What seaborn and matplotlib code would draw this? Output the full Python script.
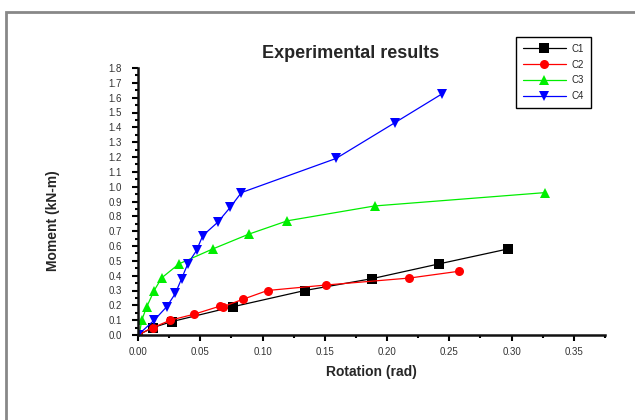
import numpy as np
import pandas as pd
import matplotlib
matplotlib.use("Agg")
import matplotlib.pyplot as plt
from matplotlib.patches import Rectangle
from matplotlib.ticker import MultipleLocator, FuncFormatter
import seaborn as sns

# Moment-rotation data for each specimen
c1_rot = [0.0, 0.012, 0.027, 0.076, 0.134, 0.188, 0.242, 0.297]
c1_mom = [0.0, 0.05, 0.09, 0.19, 0.30, 0.38, 0.48, 0.58]

c2_rot = [0.0, 0.012, 0.026, 0.045, 0.066, 0.068, 0.084, 0.104, 0.151, 0.218, 0.258]
c2_mom = [0.0, 0.05, 0.10, 0.14, 0.195, 0.19, 0.24, 0.30, 0.337, 0.384, 0.43]

c3_rot = [0.001, 0.003, 0.007, 0.013, 0.019, 0.033, 0.060, 0.089, 0.120, 0.190, 0.327]
c3_mom = [0.0, 0.10, 0.19, 0.30, 0.385, 0.48, 0.58, 0.68, 0.77, 0.87, 0.96]

c4_rot = [0.0, 0.013, 0.023, 0.030, 0.035, 0.040, 0.047, 0.052, 0.064, 0.074, 0.083, 0.159, 0.206, 0.244]
c4_mom = [0.0, 0.10, 0.19, 0.28, 0.38, 0.48, 0.57, 0.67, 0.76, 0.86, 0.96, 1.19, 1.43, 1.625]

specimens = ["C1", "C2", "C3", "C4"]
series = {"C1": (c1_rot, c1_mom), "C2": (c2_rot, c2_mom),
          "C3": (c3_rot, c3_mom), "C4": (c4_rot, c4_mom)}

frames = []
for name in specimens:
    r, m = series[name]
    frames.append(pd.DataFrame({"Rotation": r, "Moment": m, "Specimen": name}))
df = pd.concat(frames, ignore_index=True)

palette = {"C1": "#000000", "C2": "#ff0000", "C3": "#00ee00", "C4": "#0000ff"}
markers = {"C1": "s", "C2": "o", "C3": "^", "C4": "v"}

sns.set_style("ticks")
plt.rcParams["font.family"] = ["Liberation Sans", "DejaVu Sans"]

fig = plt.figure(figsize=(6.35, 4.2), dpi=100)
ax = fig.add_axes([138 / 635, 1 - 335 / 420, (605 - 138) / 635, (335 - 68) / 420])

sns.lineplot(data=df, x="Rotation", y="Moment", hue="Specimen", style="Specimen",
             palette=palette, markers=markers, dashes=False, sort=False,
             estimator=None, linewidth=0.9, markersize=6.5, markeredgewidth=0,
             ax=ax, legend=True)

ax.set_xlim(0, 0.375)
ax.set_ylim(0, 1.8)
ax.xaxis.set_major_locator(MultipleLocator(0.05))
ax.xaxis.set_minor_locator(MultipleLocator(0.025))
ax.yaxis.set_major_locator(MultipleLocator(0.1))
ax.yaxis.set_minor_locator(MultipleLocator(0.05))
ax.xaxis.set_major_formatter(FuncFormatter(lambda v, p: f"{v:.2f}"))
ax.yaxis.set_major_formatter(FuncFormatter(lambda v, p: f"{v:.1f}"))
ax.tick_params(axis="both", which="major", direction="out", length=4.5, width=1.5,
               labelsize=7, colors="black", labelcolor="#333333")
ax.tick_params(axis="y", which="major", pad=7)
ax.tick_params(axis="x", which="major", pad=4)
ax.tick_params(axis="both", which="minor", direction="out", length=2.5, width=1.5,
               colors="black")
for s in ["top", "right"]:
    ax.spines[s].set_visible(False)
for s in ["left", "bottom"]:
    ax.spines[s].set_linewidth(1.8)
    ax.spines[s].set_color("#111111")

ax.set_xlabel("Rotation (rad)", fontsize=10, fontweight="bold", labelpad=6)
ax.set_ylabel("")
fig.text(53 / 635, 1 - 221 / 420, "Moment (kN-m)", rotation=90, ha="center",
         va="center", fontsize=10, fontweight="bold")
fig.text(351 / 635, 1 - 53 / 420, "Experimental results", ha="center", va="center",
         fontsize=13, fontweight="bold")

leg = ax.legend(loc="upper left", bbox_to_anchor=(516 / 635, 1 - 37 / 420),
                bbox_transform=fig.transFigure, borderaxespad=0, fontsize=7,
                frameon=True, fancybox=False, handlelength=4.4, borderpad=0.7,
                labelspacing=0.6, handletextpad=0.6)
leg.get_frame().set_edgecolor("black")
leg.get_frame().set_linewidth(1.0)
leg.get_frame().set_alpha(1)

# outer frame around the chart area
fig.patches.append(Rectangle((6 / 635, -0.1), 1.2, 1 - 12 / 420 + 0.1,
                             transform=fig.transFigure, fill=False,
                             edgecolor="#888888", linewidth=2))

fig.savefig("out.png", dpi=100)
